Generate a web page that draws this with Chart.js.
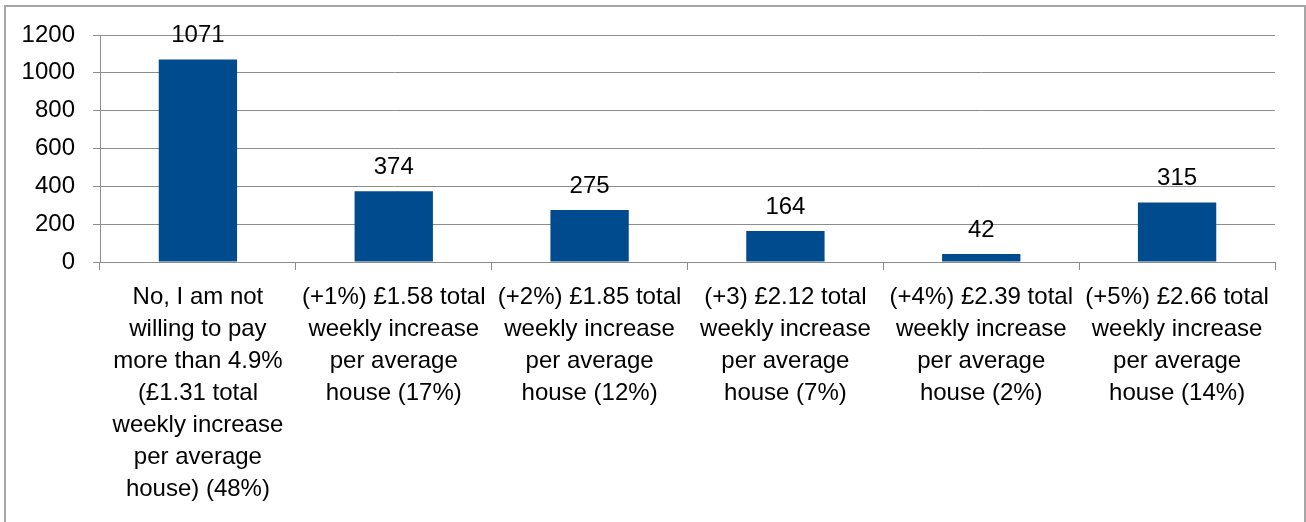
<!DOCTYPE html>
<html>
<head>
<meta charset="utf-8">
<script src="https://cdn.jsdelivr.net/npm/chart.js@4.4.1/dist/chart.umd.min.js"></script>
<style>
  html, body { margin: 0; padding: 0; background: #fff; overflow: hidden; }
  #wrap { position: relative; width: 1306px; height: 522px; }
  #frame {
    position: absolute; left: 4px; top: 5px; width: 1302px; height: 600px;
    box-sizing: border-box; border: 2px solid #a6a6a6; pointer-events: none;
  }
</style>
</head>
<body>
<div id="wrap">
  <canvas id="chart" width="1306" height="522"></canvas>
  <div id="frame"></div>
</div>
<script>
// categories (already wrapped the way the reference shows them)
const categoryLabels = [
  ["No, I am not", "willing to pay", "more than 4.9%", "(£1.31 total", "weekly increase", "per average", "house) (48%)"],
  ["(+1%) £1.58 total", "weekly increase", "per average", "house (17%)"],
  ["(+2%) £1.85 total", "weekly increase", "per average", "house (12%)"],
  ["(+3) £2.12 total", "weekly increase", "per average", "house (7%)"],
  ["(+4%) £2.39 total", "weekly increase", "per average", "house (2%)"],
  ["(+5%) £2.66 total", "weekly increase", "per average", "house (14%)"]
];
const responseCounts = [1071, 374, 275, 164, 42, 315];
const yTicks = [0, 200, 400, 600, 800, 1000, 1200];

const FONT = "'Liberation Sans', Arial, sans-serif";
const TEXT = '#000000';
const GRID = '#8c8c8c';

// simple value labels above bars
const valueLabels = {
  id: 'valueLabels',
  afterDatasetsDraw(chart) {
    const ctx = chart.ctx;
    const meta = chart.getDatasetMeta(0);
    ctx.save();
    ctx.font = '24px ' + FONT;
    ctx.fillStyle = TEXT;
    ctx.textAlign = 'center';
    ctx.textBaseline = 'alphabetic';
    meta.data.forEach(function(bar, i) {
      ctx.fillText(String(responseCounts[i]), bar.x, bar.y - 17);
    });
    ctx.restore();
  }
};

const ctx = document.getElementById('chart').getContext('2d');
new Chart(ctx, {
  type: 'bar',
  data: {
    labels: categoryLabels,
    datasets: [{
      data: responseCounts,
      backgroundColor: '#004B8D',
      borderWidth: 0,
      categoryPercentage: 1.0,
      barPercentage: 0.4
    }]
  },
  options: {
    responsive: false,
    animation: false,
    devicePixelRatio: 1,
    layout: { padding: { left: 0, top: 35, right: 31, bottom: 0 } },
    plugins: {
      legend: { display: false },
      tooltip: { enabled: false }
    },
    scales: {
      x: {
        grid: {
          drawOnChartArea: false,
          drawTicks: true,
          tickLength: 8,
          color: GRID,
          offset: true
        },
        border: { display: true, color: GRID, width: 1 },
        ticks: {
          autoSkip: false,
          maxRotation: 0,
          minRotation: 0,
          padding: 11,
          color: TEXT,
          font: { family: FONT, size: 24, lineHeight: '32px' }
        },
        afterFit(scale) { scale.height = 260; }
      },
      y: {
        min: 0,
        max: 1200,
        afterBuildTicks(scale) { scale.ticks = yTicks.map(v => ({ value: v })); },
        grid: {
          color: GRID,
          tickLength: 7,
          drawTicks: true
        },
        border: { display: true, color: GRID, width: 1 },
        ticks: {
          padding: 18,
          color: TEXT,
          font: { family: FONT, size: 24 },
          callback: function(value) { return String(value); }
        },
        afterFit(scale) { scale.width = 100; }
      }
    }
  },
  plugins: [valueLabels]
});
</script>
</body>
</html>
